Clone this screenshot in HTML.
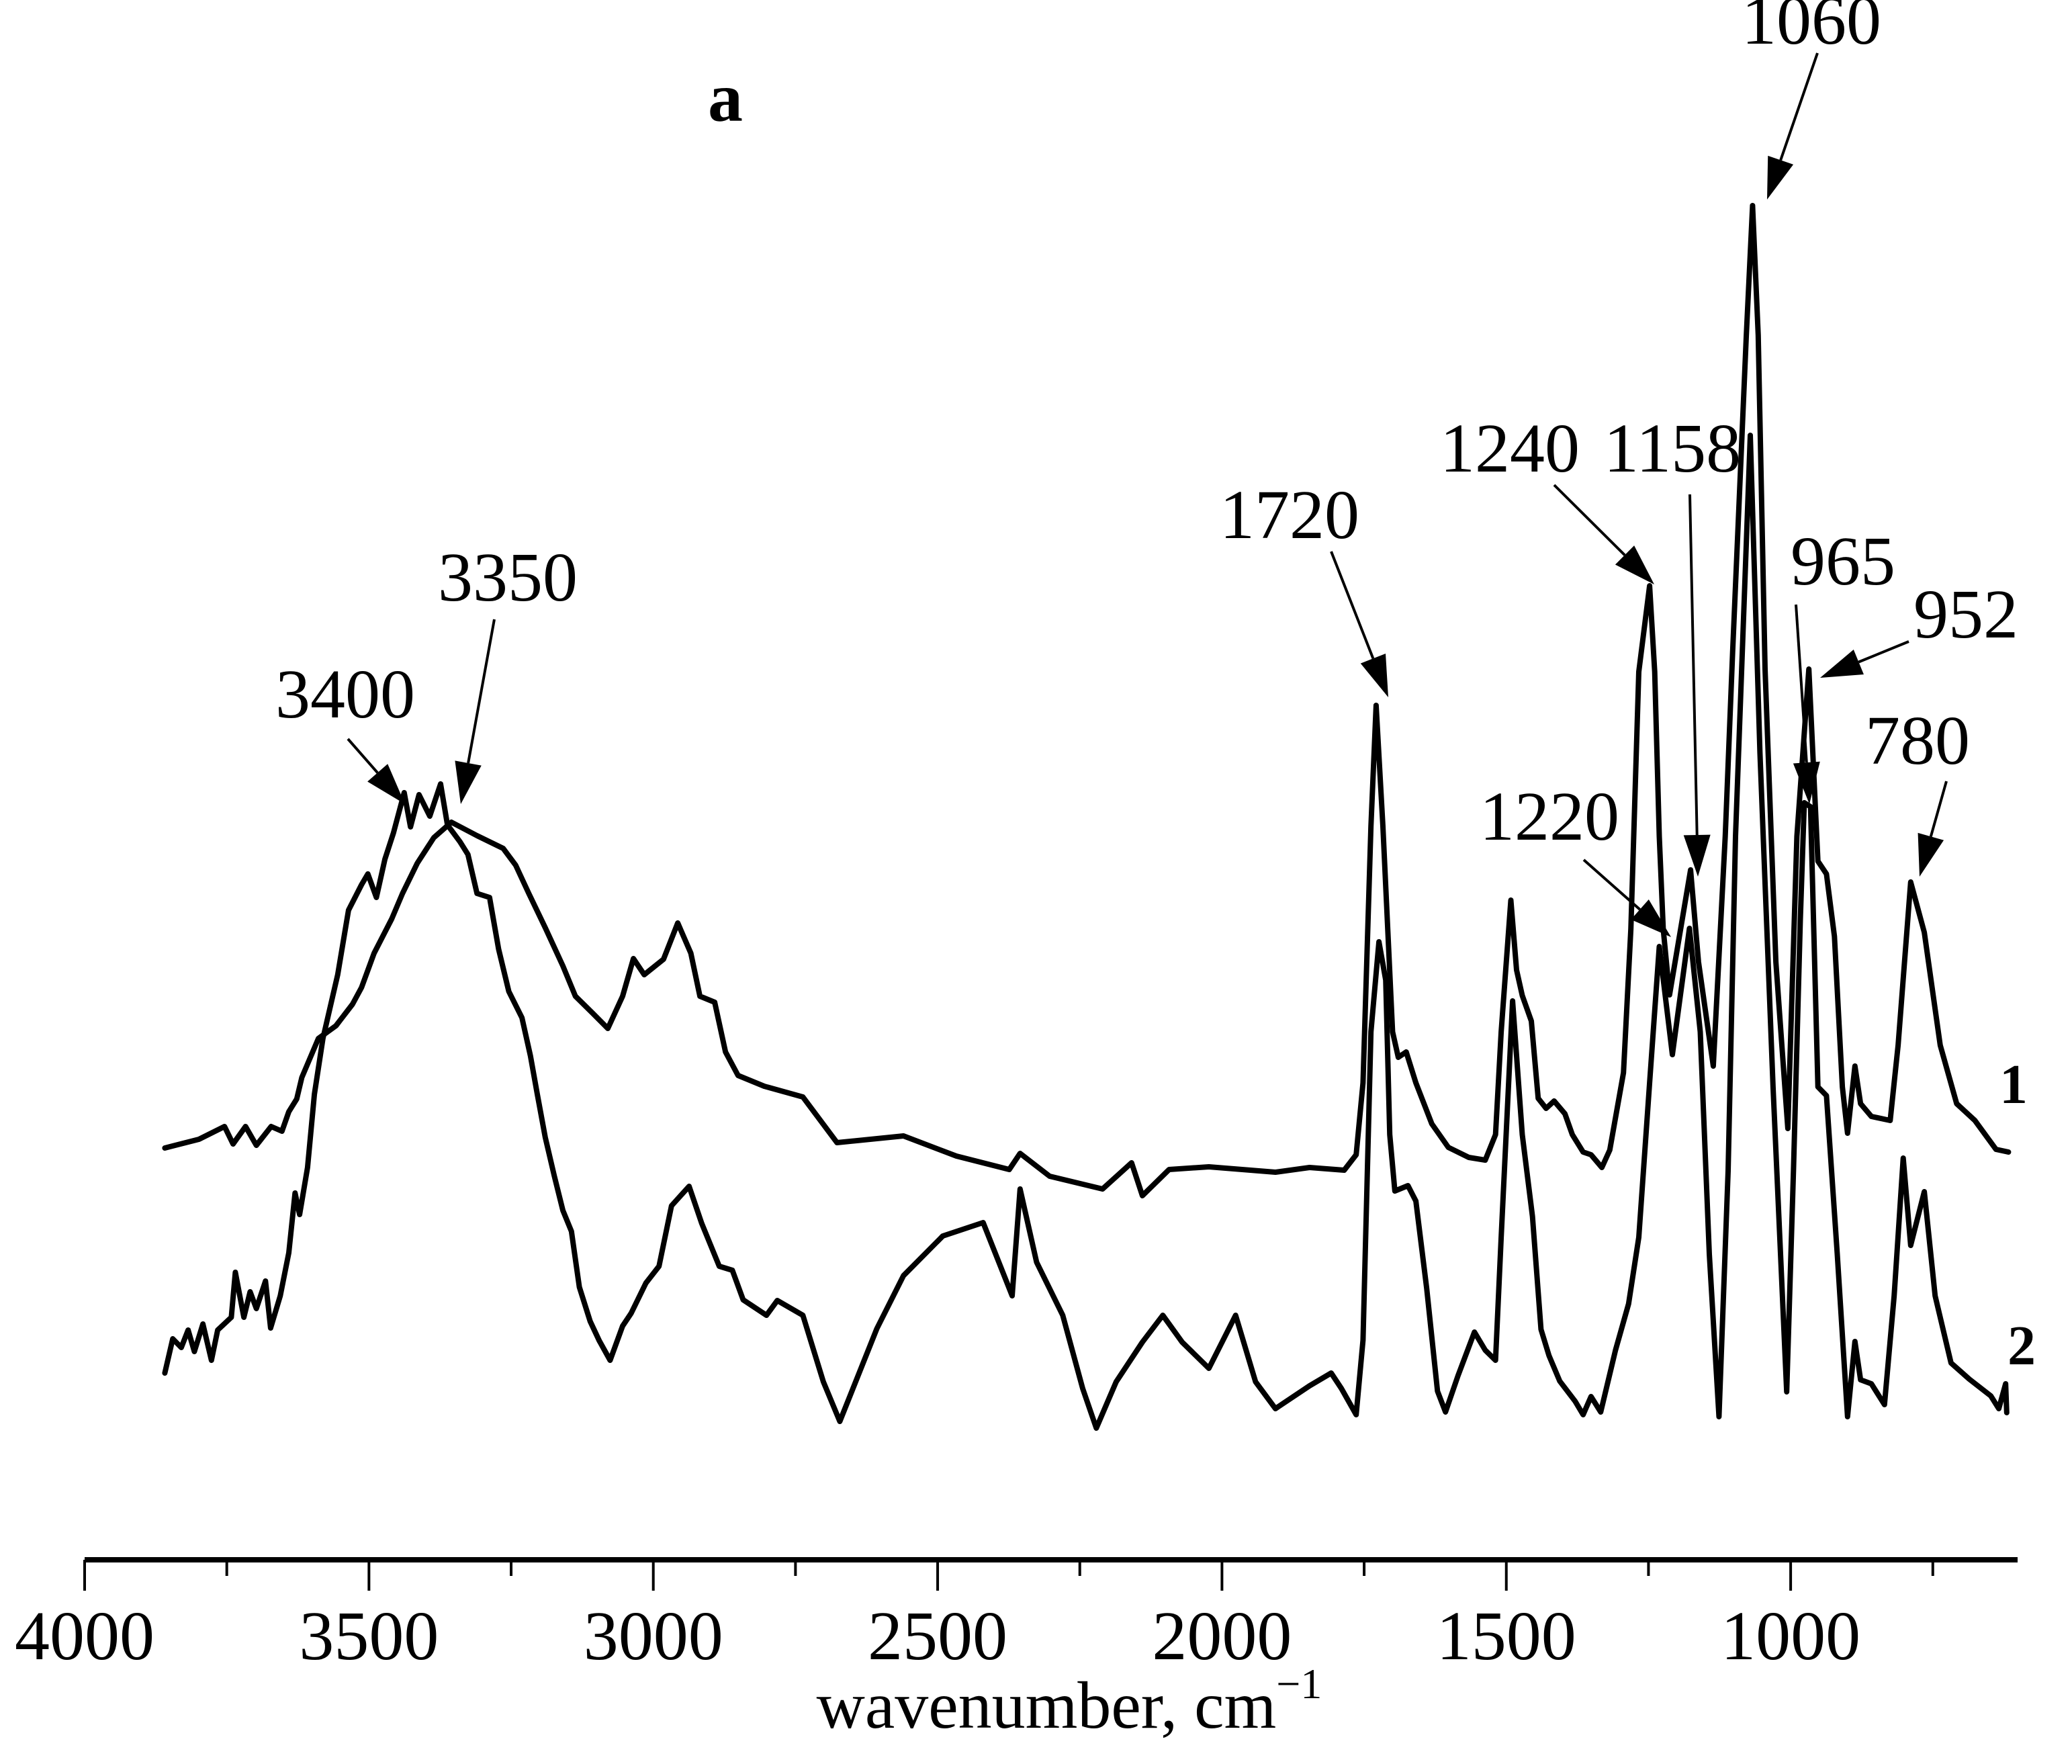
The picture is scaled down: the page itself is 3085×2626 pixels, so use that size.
<!DOCTYPE html>
<html><head><meta charset="utf-8"><title>FTIR spectra a</title>
<style>html,body{margin:0;padding:0;background:#fff}svg{display:block}text{font-family:"Liberation Serif",serif;fill:#000}</style>
</head><body>
<svg id="chart" xmlns="http://www.w3.org/2000/svg" width="3085" height="2626" viewBox="0 0 3085 2626">
<rect width="3085" height="2626" fill="#fff"/>
<text x="1080" y="180" font-size="104" font-weight="bold" text-anchor="middle">a</text>
<g id="axis"></g>
<g id="series"></g>
<g id="annot"></g>
<text x="1592" y="2572" font-size="100" text-anchor="middle">wavenumber, cm<tspan font-size="64" dy="-44">−1</tspan></text>
<text x="2998" y="1642" font-size="84" font-weight="bold" text-anchor="middle">1</text>
<text x="3010" y="2031" font-size="84" font-weight="bold" text-anchor="middle">2</text>
</svg>
<script>
const xTicks = [4000, 3500, 3000, 2500, 2000, 1500, 1000];
const xMinorTicks = [3750, 3250, 2750, 2250, 1750, 1250, 750];
const s1wn = [3859,3799,3754,3739,3717,3698,3672,3653,3641,3627,3618,3589,3558,3529,3513,3491,3460,3441,3415,3386,3355,3310,3264,3242,3219,3190,3159,3137,3107,3080,3054,3035,3016,2982,2957,2934,2918,2892,2873,2851,2805,2737,2677,2560,2467,2374,2355,2303,2210,2159,2140,2093,2023,1906,1846,1785,1764,1752,1738,1729,1717,1700,1690,1676,1659,1631,1602,1566,1537,1519,1509,1492,1482,1472,1456,1444,1430,1416,1397,1384,1365,1351,1332,1318,1294,1281,1267,1248,1239,1231,1224,1213,1176,1162,1136,1115,1102,1078,1067,1057,1045,1026,1005,989,968,952,937,923,909,900,887,877,858,825,811,789,765,737,708,676,639,617];
const s1val = [0.613,0.626,0.645,0.619,0.645,0.617,0.645,0.638,0.667,0.686,0.718,0.776,0.795,0.827,0.852,0.903,0.954,0.992,1.037,1.075,1.098,1.078,1.059,1.034,0.992,0.941,0.884,0.839,0.814,0.791,0.839,0.895,0.871,0.894,0.948,0.903,0.839,0.830,0.756,0.721,0.705,0.689,0.621,0.631,0.601,0.581,0.605,0.571,0.552,0.591,0.542,0.581,0.585,0.577,0.584,0.580,0.603,0.710,1.092,1.272,1.092,0.786,0.748,0.756,0.710,0.649,0.614,0.599,0.595,0.633,0.786,0.982,0.878,0.840,0.802,0.687,0.672,0.683,0.664,0.633,0.607,0.603,0.584,0.610,0.725,0.939,1.322,1.450,1.322,1.077,0.939,0.841,1.027,0.890,0.735,1.077,1.351,1.823,2.016,1.823,1.326,0.890,0.642,1.077,1.326,1.040,1.021,0.928,0.704,0.635,0.735,0.679,0.660,0.654,0.766,1.009,0.934,0.766,0.679,0.654,0.611,0.607];
const s2wn = [3859,3845,3830,3818,3807,3792,3777,3766,3742,3735,3720,3709,3698,3682,3673,3656,3641,3630,3622,3608,3596,3581,3567,3555,3536,3513,3502,3487,3472,3457,3438,3427,3412,3393,3374,3362,3340,3326,3310,3288,3272,3254,3231,3216,3204,3190,3174,3159,3144,3130,3111,3095,3076,3054,3039,3013,2990,2968,2937,2915,2884,2861,2842,2801,2782,2737,2701,2672,2607,2560,2491,2420,2369,2355,2326,2280,2245,2221,2186,2140,2104,2070,2023,1976,1941,1906,1846,1808,1790,1764,1752,1738,1724,1712,1705,1696,1673,1659,1640,1621,1607,1585,1556,1537,1519,1509,1489,1472,1454,1439,1425,1406,1379,1365,1351,1334,1308,1285,1267,1248,1231,1208,1178,1159,1143,1126,1110,1097,1071,1054,1031,1007,995,983,976,965,952,937,918,900,887,877,858,835,818,802,789,765,746,718,686,648,634,622,620];
const s2val = [0.278,0.329,0.316,0.342,0.310,0.351,0.297,0.342,0.361,0.428,0.361,0.399,0.374,0.415,0.345,0.393,0.457,0.546,0.514,0.584,0.693,0.776,0.827,0.871,0.967,1.005,1.021,0.986,1.043,1.082,1.142,1.091,1.139,1.107,1.155,1.094,1.069,1.050,0.992,0.986,0.909,0.846,0.807,0.750,0.693,0.629,0.571,0.520,0.489,0.406,0.355,0.326,0.297,0.348,0.367,0.412,0.437,0.527,0.556,0.501,0.437,0.431,0.387,0.364,0.386,0.364,0.265,0.206,0.344,0.423,0.482,0.502,0.393,0.552,0.443,0.364,0.255,0.196,0.265,0.324,0.364,0.324,0.285,0.364,0.265,0.225,0.259,0.278,0.255,0.216,0.327,0.786,0.920,0.863,0.633,0.549,0.557,0.534,0.404,0.251,0.220,0.274,0.339,0.312,0.297,0.480,0.832,0.633,0.511,0.343,0.304,0.266,0.236,0.216,0.243,0.220,0.312,0.381,0.480,0.710,0.913,0.752,0.940,0.786,0.455,0.213,0.579,1.077,1.674,1.201,0.704,0.250,0.579,0.953,1.127,1.121,0.704,0.691,0.455,0.213,0.325,0.268,0.262,0.231,0.393,0.598,0.468,0.548,0.393,0.293,0.269,0.244,0.225,0.262,0.219];
const annLabels = ["1060","1240","1158","1720","3350","3400","1220","965","952","780"];
const NS = "http://www.w3.org/2000/svg";
function xs(w){ return 126 + (4000 - w) * 0.8467; }
function ys(v){ return 2322 - v * 1000; }
const axis = document.getElementById('axis');
const base = document.createElementNS(NS,'line');
base.setAttribute('x1',126);base.setAttribute('x2',3004);base.setAttribute('y1',2322);base.setAttribute('y2',2322);
base.setAttribute('stroke','#000');base.setAttribute('stroke-width','8');


axis.appendChild(base);
xTicks.forEach(t=>{
  const l=document.createElementNS(NS,'line');
  l.setAttribute('x1',xs(t));l.setAttribute('x2',xs(t));l.setAttribute('y1',2322);l.setAttribute('y2',2368);
  l.setAttribute('stroke','#000');l.setAttribute('stroke-width','4');
  
  
  axis.appendChild(l);
  const tx=document.createElementNS(NS,'text');
  tx.setAttribute('x',xs(t));tx.setAttribute('y',2470);tx.setAttribute('font-size','104');tx.setAttribute('text-anchor','middle');
  tx.textContent=t;
  
  
  axis.appendChild(tx);
});
xMinorTicks.forEach(t=>{
  const l=document.createElementNS(NS,'line');
  l.setAttribute('x1',xs(t));l.setAttribute('x2',xs(t));l.setAttribute('y1',2322);l.setAttribute('y2',2346);
  l.setAttribute('stroke','#000');l.setAttribute('stroke-width','4');
  
  
  axis.appendChild(l);
});
function drawSeries(wn, val, name){
  let d='';
  wn.forEach((w,i)=>{ d += (i?'L':'M') + xs(w).toFixed(1) + ' ' + ys(val[i]).toFixed(1); });
  const p=document.createElementNS(NS,'path');
  p.setAttribute('d',d);p.setAttribute('fill','none');p.setAttribute('stroke','#000');
  p.setAttribute('stroke-width','8');p.setAttribute('stroke-linejoin','round');p.setAttribute('stroke-linecap','round');
  
  
  document.getElementById('series').appendChild(p);
}
drawSeries(s1wn, s1val, 'spectrum-1');
drawSeries(s2wn, s2val, 'spectrum-2');
const annLayout = [
  [2697,65,2706,79,2631,297],
  [2248,702,2314,722,2463,870],
  [2490,702,2516,736,2528,1305],
  [1920,801,1982,821,2067,1038],
  [756,894,736,922,686,1197],
  [514,1068,518,1100,603,1197],
  [2307,1250,2358,1280,2488,1395],
  [2744,870,2674,900,2694,1197],
  [2927,949,2842,955,2710,1009],
  [2855,1137,2898,1163,2858,1305]
];
const annot=document.getElementById('annot');
annLabels.forEach((lab,i)=>{
  const a=annLayout[i];
  const t=document.createElementNS(NS,'text');
  t.setAttribute('x',a[0]);t.setAttribute('y',a[1]);t.setAttribute('font-size','104');t.setAttribute('text-anchor','middle');
  t.textContent=lab;
  
  
  annot.appendChild(t);
  const x1=a[2],y1=a[3],x2=a[4],y2=a[5];
  const dx=x2-x1,dy=y2-y1,L=Math.hypot(dx,dy),ux=dx/L,uy=dy/L;
  const hl=62,hw=20;
  const bx=x2-ux*hl,by=y2-uy*hl;
  const ln=document.createElementNS(NS,'line');
  ln.setAttribute('x1',x1);ln.setAttribute('y1',y1);ln.setAttribute('x2',bx);ln.setAttribute('y2',by);
  ln.setAttribute('stroke','#000');ln.setAttribute('stroke-width','4');
  
  
  annot.appendChild(ln);
  const hd=document.createElementNS(NS,'polygon');
  hd.setAttribute('points',`${x2},${y2} ${bx-uy*hw},${by+ux*hw} ${bx+uy*hw},${by-ux*hw}`);
  hd.setAttribute('fill','#000');
  
  
  annot.appendChild(hd);
});
</script>
</body></html>
